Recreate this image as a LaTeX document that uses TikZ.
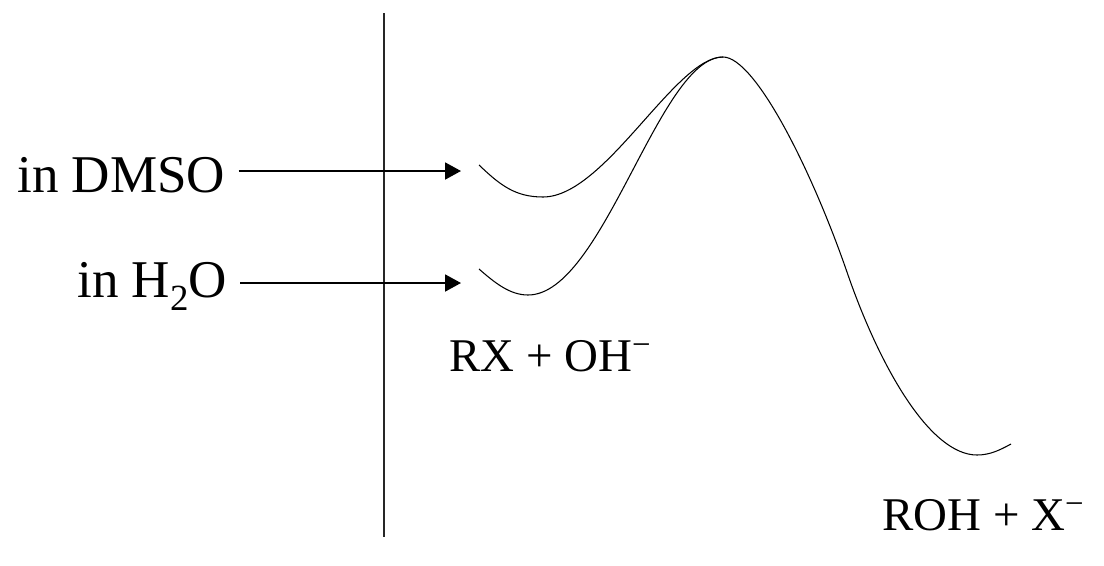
\documentclass[tikz,border=0pt]{standalone}
\usepackage{fontspec}
\setmainfont{Liberation Serif}
\usetikzlibrary{arrows.meta}
\newcommand{\lowsub}[1]{\raisebox{-0.26em}{\fontsize{21}{24}\selectfont #1}}
\begin{document}
\begin{tikzpicture}[x=0.02cm,y=-0.02cm,
  lbl/.style={inner sep=0pt,anchor=base west,font=\fontsize{30.2}{36}\selectfont},
  state/.style={inner sep=0pt,anchor=base west,font=\fontsize{26.7}{32}\selectfont},
  arr/.style={-{Triangle[length=0.32cm,width=0.34cm]},line width=1.1pt},
  curve/.style={line width=0.6pt}]
\useasboundingbox (0,0) rectangle (1104,565);

\draw[line width=0.6pt,black!85] (384,13) -- (384,537);

\node[lbl] (dmso) at (17,192) {in DMSO};
\node[lbl] (water) at (77,297) {in H\lowsub{2}O};
\coordinate (dmsoend) at (461,171);
\coordinate (waterend) at (461,283);
\coordinate (peak) at (723,57);
\draw[arr] ([xshift=0.26cm]dmsoend -| dmso.east) -- (dmsoend);
\draw[arr] ([xshift=0.26cm]waterend -| water.east) -- (waterend);

\draw[curve] (479,165) .. controls (500,185) and (515,197) .. (543,197)
  .. controls (605,197) and (675,57) .. (peak);
\draw[curve] (479,269) .. controls (495,283) and (510,295) .. (528,295)
  .. controls (603,295) and (659,57) .. (peak)
  .. controls (755,57) and (812,170) .. (848,275)
  .. controls (880,367) and (930,455) .. (977,455)
  .. controls (990,455) and (1000,450) .. (1011,444);

\node[state] (reactants) at (449,371) {RX + OH\textsuperscript{−}};
\node[state] (products) at (882,530) {ROH + X\textsuperscript{−}};
\end{tikzpicture}
\end{document}
